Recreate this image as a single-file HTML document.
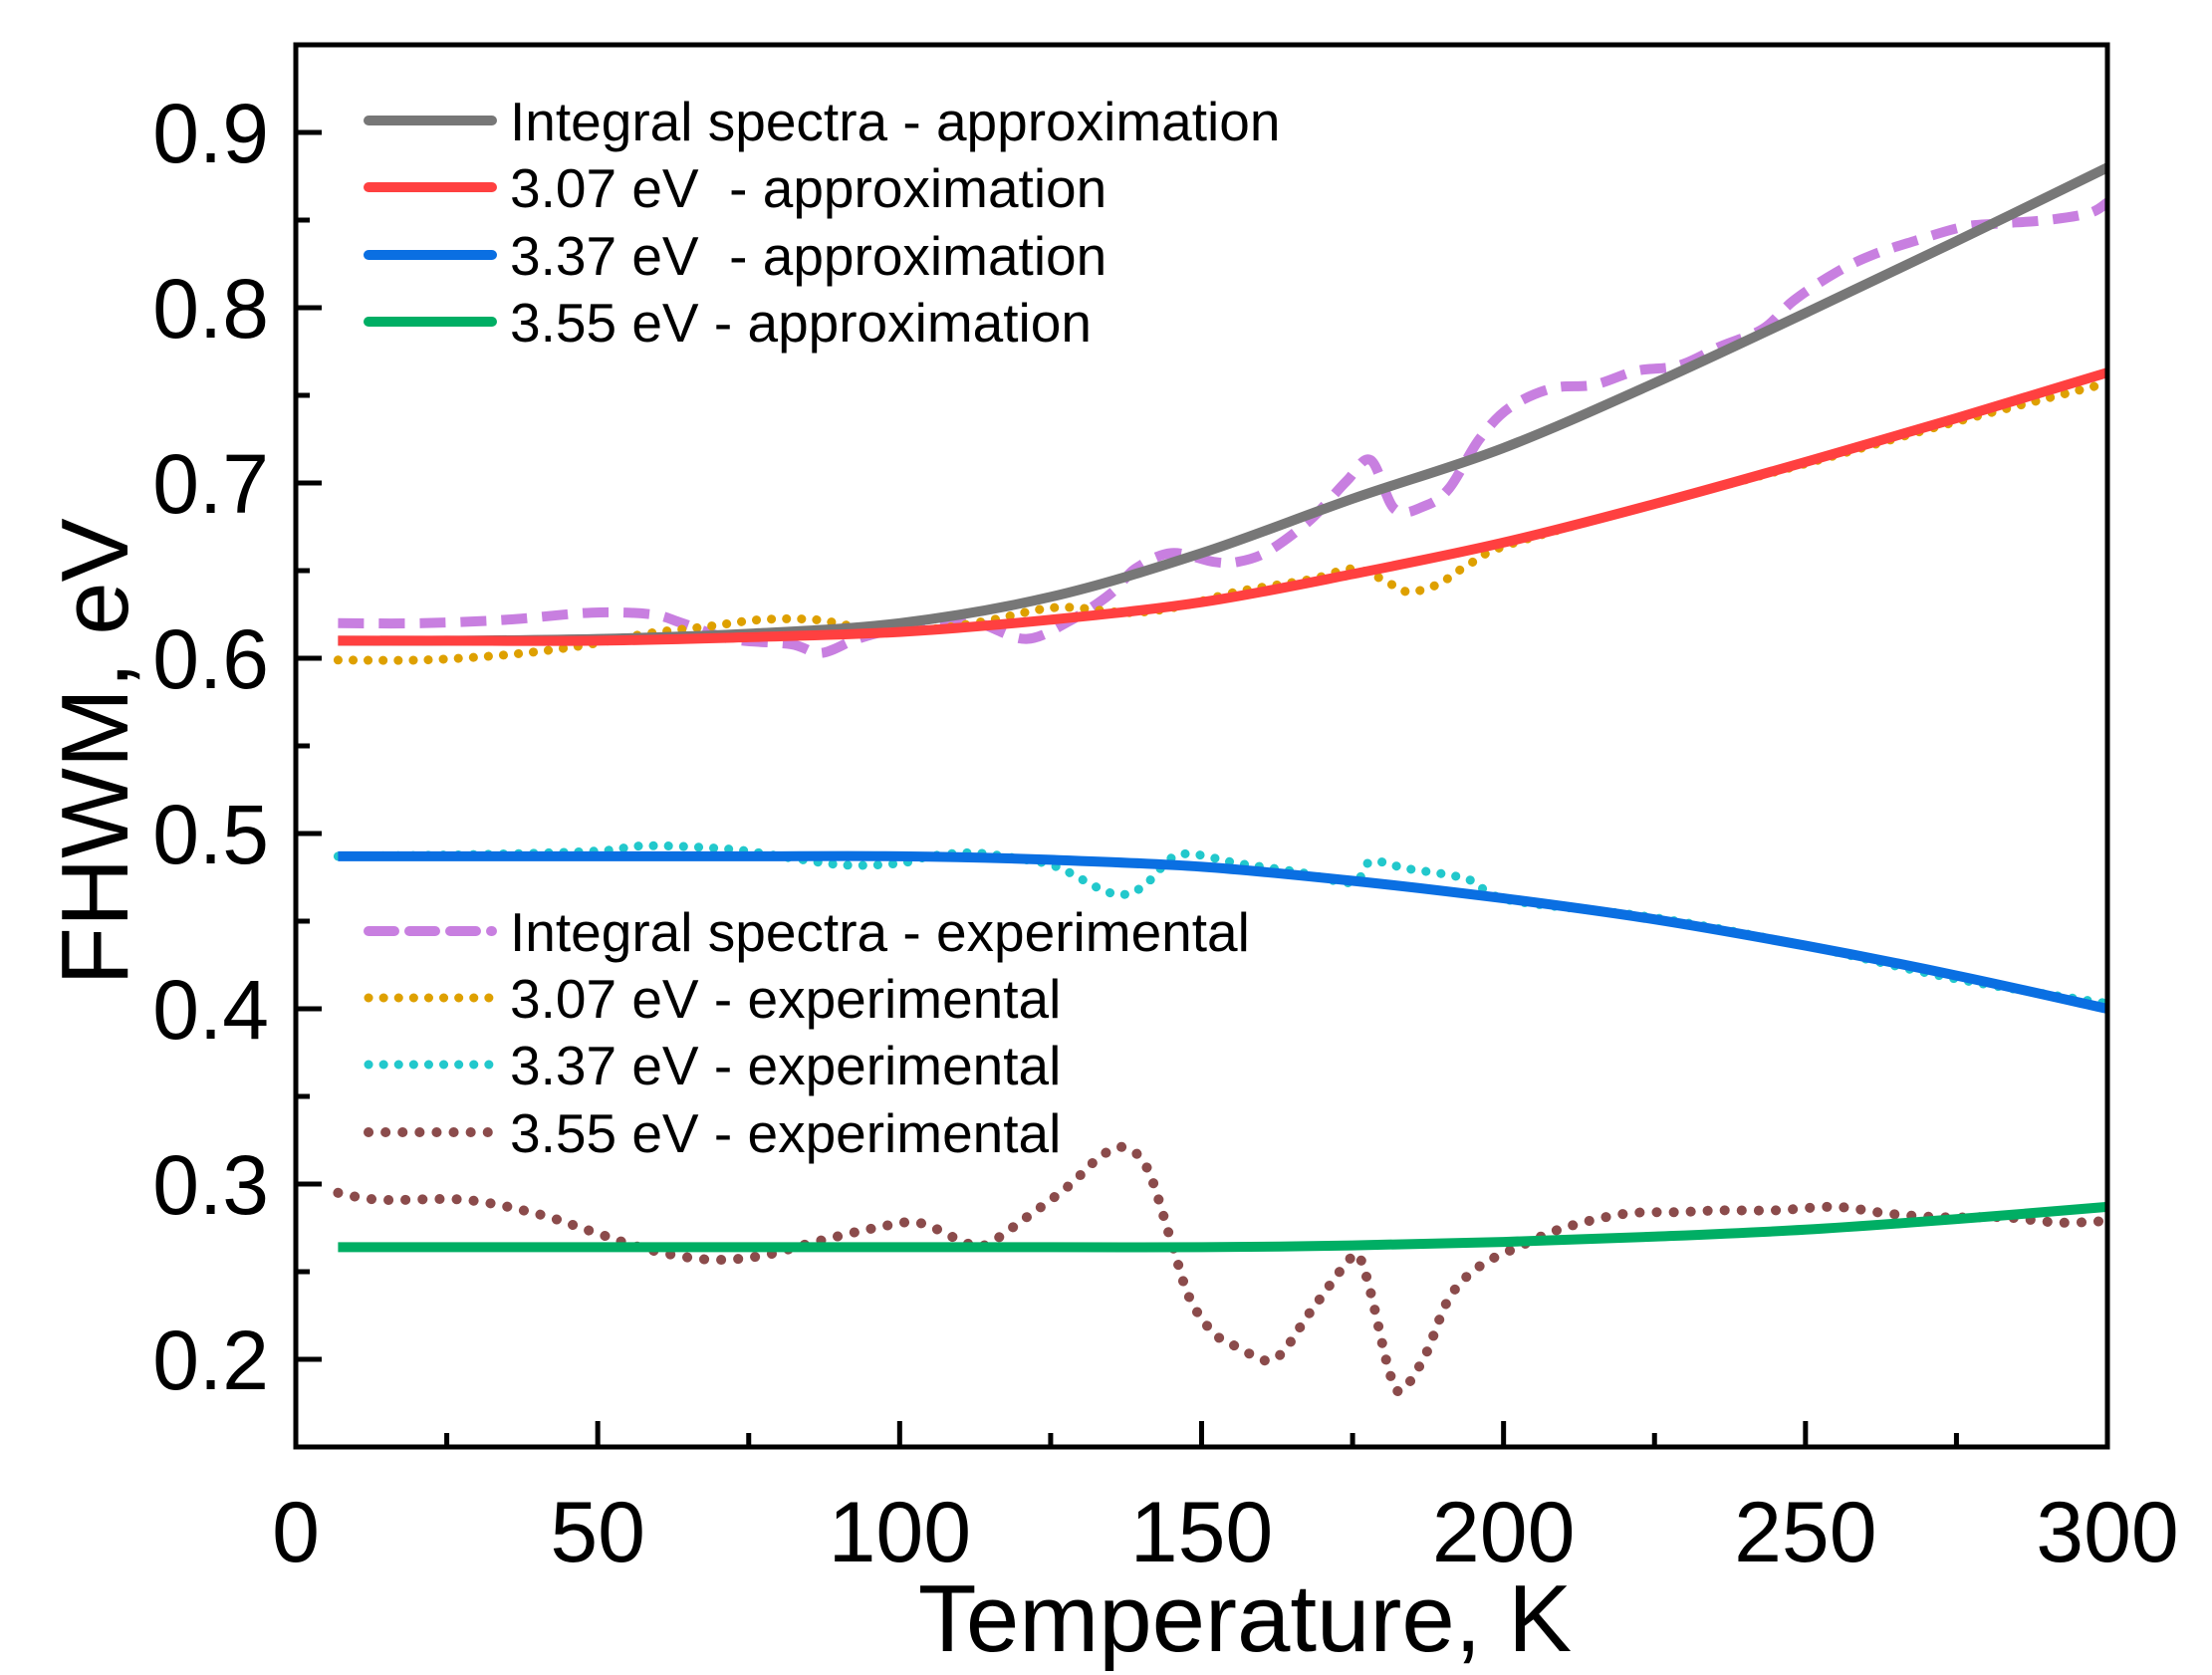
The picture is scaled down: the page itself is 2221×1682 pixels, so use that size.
<!DOCTYPE html>
<html><head><meta charset="utf-8"><style>
html,body{margin:0;padding:0;background:#fff;}
svg{display:block;font-family:"Liberation Sans",Arial,sans-serif;}
text{white-space:pre;}
</style></head><body>
<svg id="chart" width="2221" height="1682" viewBox="0 0 2221 1682">
<g id="series"></g>
<g id="axes"></g>
<g id="legend"></g>
</svg>
<script>
const xTicks = [0, 50, 100, 150, 200, 250, 300];
const yTicks = [0.2, 0.3, 0.4, 0.5, 0.6, 0.7, 0.8, 0.9];
const yTickLabels = ["0.2","0.3","0.4","0.5","0.6","0.7","0.8","0.9"];
const approxT = [7, 25, 50, 75, 100, 125, 150, 175, 200, 225, 250, 275, 300];
const integralApprox = [0.61, 0.61, 0.611, 0.614, 0.62, 0.635, 0.66, 0.691, 0.72, 0.757, 0.797, 0.838, 0.88];
const e307Approx = [0.61, 0.61, 0.61, 0.612, 0.615, 0.622, 0.632, 0.648, 0.666, 0.688, 0.712, 0.737, 0.763];
const e337Approx = [0.487, 0.487, 0.487, 0.487, 0.487, 0.485, 0.481, 0.473, 0.463, 0.451, 0.436, 0.419, 0.40];
const e355Approx = [0.264, 0.264, 0.264, 0.264, 0.264, 0.264, 0.264, 0.265, 0.267, 0.27, 0.274, 0.28, 0.287];
const intExpT = [7,21,35,49,59,64,72,82,87,93,100,110,114,121,128,135,139,145,152,156,161,168,174,178,182,187,191,196,201,208,215,222,229,236,243,248,255,261,268,276,282,290,297,300];
const intExpV = [0.62,0.62,0.622,0.626,0.625,0.62,0.611,0.608,0.603,0.611,0.617,0.621,0.619,0.611,0.621,0.637,0.651,0.66,0.655,0.655,0.661,0.679,0.701,0.713,0.685,0.687,0.697,0.725,0.743,0.754,0.756,0.764,0.767,0.778,0.788,0.804,0.82,0.83,0.838,0.846,0.848,0.85,0.854,0.86];
const e307ExpT = [7,21,35,47,58,68,77,86,93,103,114,126,138,147,156,168,175,180,184,189,194,201,225,250,275,300];
const e307ExpV = [0.599,0.599,0.602,0.607,0.614,0.618,0.622,0.622,0.618,0.616,0.621,0.629,0.626,0.63,0.638,0.645,0.651,0.645,0.638,0.642,0.653,0.665,0.688,0.711,0.735,0.757];
const e337ExpT = [7,30,50,58,72,82,91,100,105,112,119,126,135,140,145,149,156,166,175,178,184,194,201,225,250,275,300];
const e337ExpV = [0.487,0.488,0.49,0.493,0.491,0.486,0.482,0.483,0.487,0.489,0.486,0.481,0.466,0.469,0.486,0.488,0.483,0.478,0.472,0.484,0.48,0.474,0.462,0.452,0.436,0.417,0.403];
const e355ExpT = [7,14,28,40,49,58,68,77,86,96,103,110,114,121,128,133,137,141,145,148,152,156,162,168,174,176,178,181,183,187,191,196,203,210,220,229,236,245,255,264,273,283,292,300];
const e355ExpV = [0.295,0.291,0.291,0.283,0.273,0.263,0.257,0.259,0.267,0.275,0.278,0.268,0.265,0.281,0.299,0.315,0.321,0.309,0.267,0.235,0.215,0.207,0.2,0.227,0.255,0.259,0.238,0.194,0.182,0.202,0.235,0.253,0.265,0.275,0.283,0.284,0.285,0.285,0.287,0.283,0.281,0.281,0.278,0.279];
const legendLabels = ["Integral spectra - approximation","3.07 eV  - approximation","3.37 eV  - approximation","3.55 eV - approximation","Integral spectra - experimental","3.07 eV - experimental","3.37 eV - experimental","3.55 eV - experimental"];

const L=297,R=2116,T=45,B=1453;
const xS=v=>L+(v-0)*(R-L)/300;
const yS=v=>B-(v-0.15)*(B-T)/0.8;
const NS="http://www.w3.org/2000/svg";
function mk(tag,attrs,parent){const e=document.createElementNS(NS,tag);for(const k in attrs)e.setAttribute(k,attrs[k]);parent.appendChild(e);return e;}
function smoothPath(xs,ys){
  const p=xs.map((x,i)=>[xS(x),yS(ys[i])]);
  let d="M"+p[0][0].toFixed(1)+","+p[0][1].toFixed(1);
  for(let i=0;i<p.length-1;i++){
    const p0=p[Math.max(0,i-1)],p1=p[i],p2=p[i+1],p3=p[Math.min(p.length-1,i+2)];
    const c1=[p1[0]+(p2[0]-p0[0])/6,p1[1]+(p2[1]-p0[1])/6];
    const c2=[p2[0]-(p3[0]-p1[0])/6,p2[1]-(p3[1]-p1[1])/6];
    d+=" C"+c1[0].toFixed(1)+","+c1[1].toFixed(1)+" "+c2[0].toFixed(1)+","+c2[1].toFixed(1)+" "+p2[0].toFixed(1)+","+p2[1].toFixed(1);
  }
  return d;
}
const styles=[
 {c:"#777777",w:10,dash:null},
 {c:"#ff4040",w:10,dash:null},
 {c:"#0a6fe2",w:10,dash:null},
 {c:"#00ae64",w:10,dash:null},
 {c:"#c87fe0",w:10,dash:"26 15"},
 {c:"#dea000",w:9,dash:"0.1 15"},
 {c:"#22c8cc",w:9,dash:"0.1 15"},
 {c:"#8b4b4b",w:10,dash:"0.1 17"}
];
const sg=document.getElementById("series");
const seriesDefs=[
 ["integral-exp-line",intExpT,intExpV,4],
 ["e307-exp-line",e307ExpT,e307ExpV,5],
 ["e337-exp-line",e337ExpT,e337ExpV,6],
 ["e355-exp-line",e355ExpT,e355ExpV,7],
 ["integral-approx-line",approxT,integralApprox,0],
 ["e307-approx-line",approxT,e307Approx,1],
 ["e337-approx-line",approxT,e337Approx,2],
 ["e355-approx-line",approxT,e355Approx,3]
];
seriesDefs.forEach(s=>{
  const st=styles[s[3]];
  const a={d:smoothPath(s[1],s[2]),fill:"none",stroke:st.c,"stroke-width":st.w,"stroke-linecap":st.dash&&st.dash.startsWith("0.1")?"round":"butt","stroke-linejoin":"round"};
  if(st.dash)a["stroke-dasharray"]=st.dash;
  const el=mk("path",a,sg);
  
  
});
const ag=document.getElementById("axes");
const frame=mk("rect",{x:L,y:T,width:R-L,height:B-T,fill:"none",stroke:"#000","stroke-width":5},ag);


for(let v=0;v<=300;v+=25){
  const major=v%50===0;
  const t=mk("line",{x1:xS(v),x2:xS(v),y1:B,y2:B-(major?26:14),stroke:"#000","stroke-width":5},ag);
  
  
}
xTicks.forEach(v=>{
  const t=mk("text",{x:xS(v),y:1568,"font-size":86,"text-anchor":"middle",fill:"#000"},ag);
  t.textContent=String(v);
  
  
});
for(let k=0;k<16;k++){
  const v=0.15+k*0.05;const major=k%2===1;
  const t=mk("line",{x1:L,x2:L+(major?26:14),y1:yS(v),y2:yS(v),stroke:"#000","stroke-width":5},ag);
  
  
}
yTicks.forEach((v,i)=>{
  const t=mk("text",{x:270,y:yS(v)+30,"font-size":84,"text-anchor":"end",fill:"#000"},ag);
  t.textContent=yTickLabels[i];
  
  
});
const xt=mk("text",{x:1250,y:1658,"font-size":96,"text-anchor":"middle",fill:"#000"},ag);
xt.textContent="Temperature, K";


const yt=mk("text",{x:0,y:0,"font-size":96,"text-anchor":"middle",fill:"#000",transform:"translate(128,755) rotate(-90)"},ag);
yt.textContent="FHWM, eV";


const lg=document.getElementById("legend");
const rowsY=[121,188,256,323,935,1002,1069,1137];
legendLabels.forEach((lab,i)=>{
  const st=styles[i];
  const a={x1:370,x2:494,y1:rowsY[i],y2:rowsY[i],stroke:st.c,"stroke-width":st.w,"stroke-linecap":"round"};
  if(st.dash)a["stroke-dasharray"]=st.dash;
  const ln=mk("line",a,lg);
  
  
  const tx=mk("text",{x:512,y:rowsY[i]+20,"font-size":55,fill:"#000"},lg);
  tx.textContent=lab;
  
  
});
</script>
</body></html>
